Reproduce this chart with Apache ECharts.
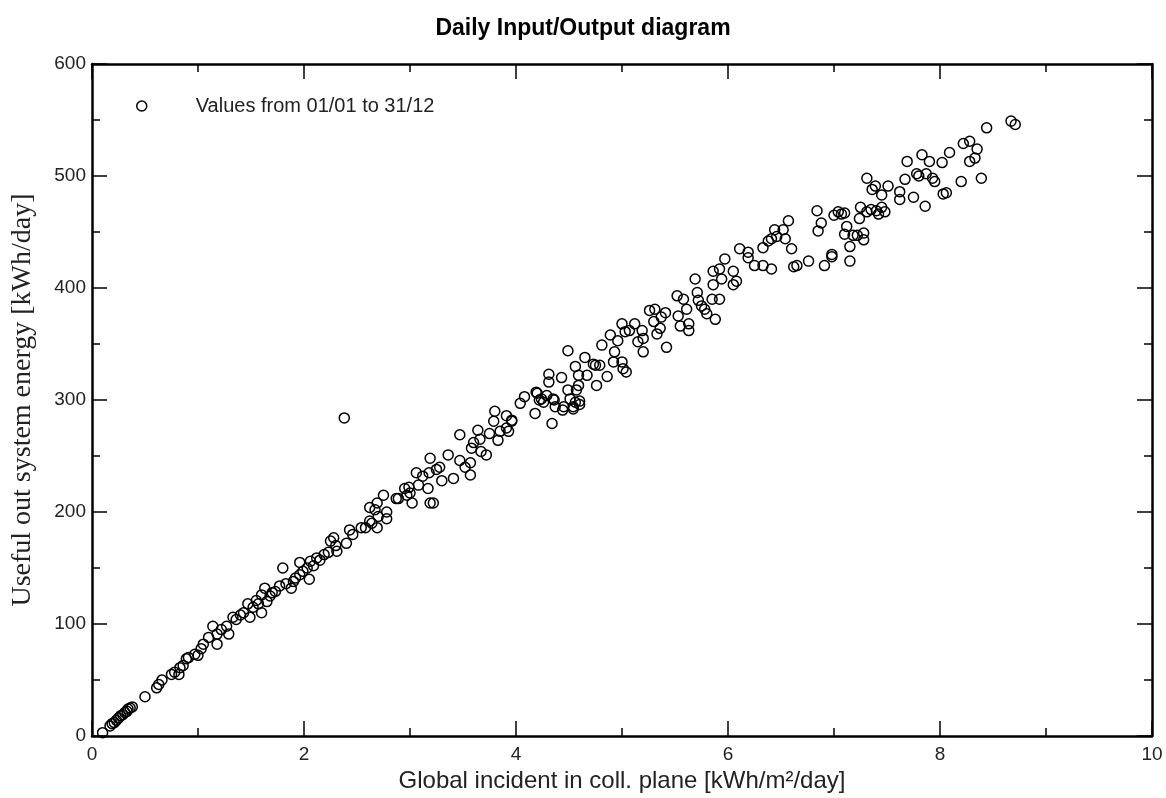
<!DOCTYPE html>
<html>
<head>
<meta charset="utf-8">
<script src="https://cdn.jsdelivr.net/npm/echarts@6/dist/echarts.min.js"></script>
<style>
html,body{margin:0;padding:0;background:#fff;}
#chart{width:1166px;height:798px;}
</style>
</head>
<body>
<div id="chart"></div>
<script>
// Axis ticks
const xTicks = {min: 0, max: 10, interval: 2};
const yTicks = {min: 0, max: 600, interval: 100};

// Daily values: global incident in coll. plane [kWh/m²/day], useful system energy [kWh/day]
const pointsLow = [
[0.10,3],[0.17,9],[0.19,11],[0.21,12],[0.23,14],[0.25,16],[0.27,18],[0.29,19],[0.31,21],[0.33,22],[0.34,24],[0.36,25],[0.38,26],
[0.50,35],[0.61,43],[0.63,46],[0.66,50],[0.75,55],[0.78,57],[0.82,55],[0.83,61],[0.86,63],[0.89,69],[0.91,70],[0.97,73],[1.00,72],[1.03,78],[1.05,82],
[1.10,88],[1.14,98],[1.18,91],[1.18,82],[1.22,95],[1.27,98],[1.29,91],[1.33,106],[1.36,104],[1.40,108],[1.43,110],[1.47,118],[1.49,106],[1.52,115],
[1.55,121],[1.57,118],[1.60,126],[1.60,110],[1.63,132],[1.65,120],[1.68,125],[1.70,128],[1.73,129],[1.77,134],[1.80,150],[1.83,136],[1.88,132],
[1.90,138],[1.92,141],[1.96,144],[1.96,155],[1.99,147]
];
const pointsMid = [
[2.03,150],[2.05,140],[2.06,156],[2.09,152],[2.12,159],[2.15,157],[2.19,162],[2.23,164],[2.25,174],[2.28,177],[2.30,170],[2.31,165],[2.38,284],
[2.40,172],[2.43,184],[2.46,180],[2.54,186],[2.58,186],[2.62,192],[2.64,190],[2.67,202],[2.69,186],[2.70,196],[2.62,204],[2.69,208],[2.75,215],
[2.78,200],[2.78,194],[2.87,212],[2.89,212],
[2.95,221],[2.97,215],[2.99,222],[3.02,208],[3.00,217],[3.06,235],[3.08,224],[3.12,232],[3.17,221],[3.19,248],[3.19,208],[3.22,208],[3.18,235],
[3.25,238],[3.28,240],[3.30,228],[3.36,251],[3.41,230],[3.47,269],[3.47,246],[3.52,240],[3.57,233],[3.57,244],[3.58,257],[3.60,262],[3.64,273],
[3.66,265],[3.67,254],[3.72,251],[3.75,270],[3.79,281],[3.80,290],[3.83,264],[3.85,272],[3.91,286],[3.93,272],[3.96,281],[3.91,275],[3.96,282],
[4.04,297],[4.08,303],[4.18,288],[4.19,307],[4.20,306],[4.22,300],[4.24,301],[4.26,298],[4.29,304],[4.31,323],[4.31,316],[4.34,279],[4.35,301],
[4.36,300],[4.37,294],[4.43,320],[4.44,291],[4.45,294],[4.49,309],[4.49,344],[4.51,301],[4.54,294],[4.54,292],[4.56,298],[4.56,330],[4.57,309],
[4.59,313],[4.59,322],[4.60,299],[4.60,296],[4.65,338],[4.67,322],[4.73,332],[4.75,331],[4.76,313],[4.79,331],[4.81,349],[4.86,321],[4.89,358],
[4.92,334],[4.93,343],[4.96,353]
];
const pointsHigh = [
[5.00,334],[5.00,368],[5.01,328],[5.03,361],[5.04,325],[5.07,362],[5.12,368],[5.15,352],[5.19,362],[5.20,355],[5.20,343],[5.26,380],[5.30,370],
[5.31,381],[5.33,359],[5.36,364],[5.37,374],[5.41,378],[5.42,347],[5.52,393],[5.53,375],[5.55,366],[5.58,390],[5.61,381],[5.63,368],[5.63,362],
[5.69,408],[5.71,396],[5.72,389],[5.75,384],[5.78,381],[5.80,377],[5.85,390],[5.86,403],[5.86,415],[5.88,372],[5.92,417],[5.92,390],[5.94,408],
[5.97,426],
[6.05,415],[6.05,403],[6.08,406],[6.11,435],[6.19,432],[6.19,427],[6.25,420],[6.33,436],[6.33,420],[6.38,442],[6.41,444],[6.41,417],[6.44,452],
[6.46,446],[6.52,452],[6.54,444],[6.57,460],[6.60,435],[6.62,419],[6.65,420],[6.76,424],[6.84,469],[6.85,451],[6.88,458],[6.91,420],[6.98,430],
[6.98,428],
[7.00,465],[7.04,468],[7.07,466],[7.10,467],[7.12,455],[7.10,448],[7.15,437],[7.15,424],[7.18,447],[7.22,447],[7.28,449],[7.28,443],[7.24,462],
[7.25,472],[7.31,498],[7.31,468],[7.35,470],[7.40,469],[7.42,466],[7.45,472],[7.48,468],[7.51,491],[7.45,483],[7.36,488],[7.39,491],
[7.62,486],[7.62,479],[7.67,497],[7.69,513],[7.75,481],[7.78,502],[7.80,500],[7.83,519],[7.86,473],[7.87,502],[7.90,513],[7.93,498],[7.95,495],
[8.02,512],[8.03,484],[8.06,485],[8.09,521],[8.20,495],[8.22,529],[8.28,531],[8.28,513],[8.33,516],[8.35,524],[8.39,498],[8.44,543],[8.67,549],[8.71,546]
];

const seriesName = 'Values from 01/01 to 31/12';
const allPoints = pointsLow.concat(pointsMid, pointsHigh);

const chart = echarts.init(document.getElementById('chart'), null, {renderer: 'canvas'});

const tickStyle = {color: '#000', width: 1.5};
const lineStyle = {color: '#000', width: 2.5};

function xAx(pos, showLabel, name) {
  return {
    type: 'value', position: pos, min: xTicks.min, max: xTicks.max, interval: xTicks.interval,
    axisLine: {show: true, onZero: false, lineStyle: lineStyle},
    axisTick: {show: true, inside: true, length: 15, lineStyle: tickStyle},
    minorTick: {show: true, splitNumber: 2, length: 8, lineStyle: tickStyle},
    splitLine: {show: false},
    axisLabel: {show: showLabel, margin: 9, fontFamily: 'Liberation Sans', fontSize: 19, color: '#222'},
    name: name, nameLocation: 'middle', nameGap: 33,
    nameTextStyle: {fontFamily: 'Liberation Sans', fontSize: 24, color: '#222'}
  };
}
function yAx(pos, showLabel, name) {
  return {
    type: 'value', position: pos, min: yTicks.min, max: yTicks.max, interval: yTicks.interval,
    axisLine: {show: true, onZero: false, lineStyle: lineStyle},
    axisTick: {show: true, inside: true, length: 15, lineStyle: tickStyle},
    minorTick: {show: true, splitNumber: 2, length: 8, lineStyle: tickStyle},
    splitLine: {show: false},
    axisLabel: {show: showLabel, margin: 6, fontFamily: 'Liberation Sans', fontSize: 19, color: '#222'},
    name: name, nameLocation: 'middle', nameGap: 55,
    nameTextStyle: {fontFamily: 'Liberation Serif', fontSize: 28, color: '#222'}
  };
}

chart.setOption({
  backgroundColor: '#fff',
  animation: false,
  title: {
    text: 'Daily Input/Output diagram', left: 'center', top: 12,
    textStyle: {fontFamily: 'Liberation Sans', fontWeight: 'bold', fontSize: 23, color: '#000'}
  },
  legend: {
    left: 131, top: 91, icon: 'circle', itemWidth: 10, itemHeight: 10,
    itemStyle: {color: 'rgba(0,0,0,0)', borderColor: '#000', borderWidth: 1.5},
    textStyle: {fontFamily: 'Liberation Sans', fontSize: 20, color: '#222', padding: [0, 0, 0, 44]},
    data: [seriesName]
  },
  grid: {left: 92, top: 64, right: 14, bottom: 59, containLabel: false},
  xAxis: [xAx('bottom', true, 'Global incident in coll. plane [kWh/m²/day]'), xAx('top', false, '')],
  yAxis: [yAx('left', true, 'Useful out system energy [kWh/day]'), yAx('right', false, '')],
  series: [{
    name: seriesName, type: 'scatter', xAxisIndex: 0, yAxisIndex: 0,
    symbol: 'circle', symbolSize: 10,
    itemStyle: {color: 'rgba(0,0,0,0)', borderColor: '#000', borderWidth: 1.5, opacity: 1},
    emphasis: {disabled: true},
    data: allPoints
  }]
});
</script>
</body>
</html>
